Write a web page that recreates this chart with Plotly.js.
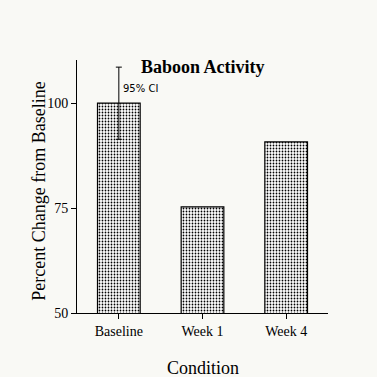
<!DOCTYPE html>
<html>
<head>
<meta charset="utf-8">
<script src="https://cdn.plot.ly/plotly-3.0.1.min.js"></script>
<style>html,body{margin:0;padding:0;background:#f9f9f5;}</style>
</head>
<body>
<div id="chart" style="width:377px;height:377px;"></div>
<script>
const categories = ["Baseline", "Week 1", "Week 4"];
const values = [100, 75.3, 90.8];
const ciCategory = [0];
const ciMean = [100];
const ciHalf = [8.6];
const yTicks = [50, 75, 100];

const serif = "Liberation Serif, Times New Roman, serif";

const bars = {
  type: "bar",
  x: [0, 1, 2],
  y: values,
  width: 0.51,
  marker: {
    color: "#ffffff",
    line: {color: "#000", width: 1.2},
    pattern: {shape: ".", fgcolor: "#000", bgcolor: "#ffffff", size: 3, solidity: 0.28}
  },
  hoverinfo: "none"
};

const ci = {
  type: "scatter",
  mode: "markers",
  x: ciCategory,
  y: ciMean,
  marker: {size: 0.1, color: "rgba(0,0,0,0)"},
  error_y: {type: "data", array: ciHalf, visible: true, color: "#000", thickness: 1, width: 3},
  hoverinfo: "none"
};

const layout = {
  width: 377, height: 377,
  margin: {l: 77, r: 49, t: 60, b: 64},
  paper_bgcolor: "#f9f9f5",
  plot_bgcolor: "#f9f9f5",
  showlegend: false,
  xaxis: {
    range: [-0.5, 2.5],
    tickmode: "array",
    tickvals: [0, 1, 2],
    ticktext: categories,
    tickson: "boundaries",
    ticks: "outside", ticklen: 5, tickcolor: "#000",
    showline: true, linecolor: "#000", linewidth: 1,
    showgrid: false, zeroline: false,
    tickfont: {family: serif, size: 14, color: "#000"}
  },
  yaxis: {
    range: [50, 110.3],
    tickmode: "array",
    tickvals: yTicks,
    ticks: "outside", ticklen: 5, tickcolor: "#000",
    showline: true, linecolor: "#000", linewidth: 1,
    showgrid: false, zeroline: false,
    tickfont: {family: serif, size: 14, color: "#000"}
  },
  annotations: [
    {text: "<b>Baboon Activity</b>", xref: "paper", yref: "paper", x: 0.5, y: 0.972, xanchor: "center", yanchor: "middle", showarrow: false, font: {family: serif, size: 18, color: "#000"}},
    {text: "95% CI", xref: "x", yref: "y", x: 0.02, y: 103.6, xanchor: "left", yanchor: "middle", showarrow: false, font: {family: "DejaVu Sans, sans-serif", size: 10, color: "#000"}},
    {text: "Condition", xref: "paper", yref: "paper", x: 0.5, y: -0.216, xanchor: "center", yanchor: "middle", showarrow: false, font: {family: serif, size: 18, color: "#000"}},
    {text: "Percent Change from Baseline", xref: "paper", yref: "paper", x: -0.155, y: 0.48, xanchor: "center", yanchor: "middle", textangle: -90, showarrow: false, font: {family: serif, size: 18, color: "#000"}}
  ]
};

Plotly.newPlot("chart", [bars, ci], layout, {displayModeBar: false, staticPlot: true});
</script>
</body>
</html>
